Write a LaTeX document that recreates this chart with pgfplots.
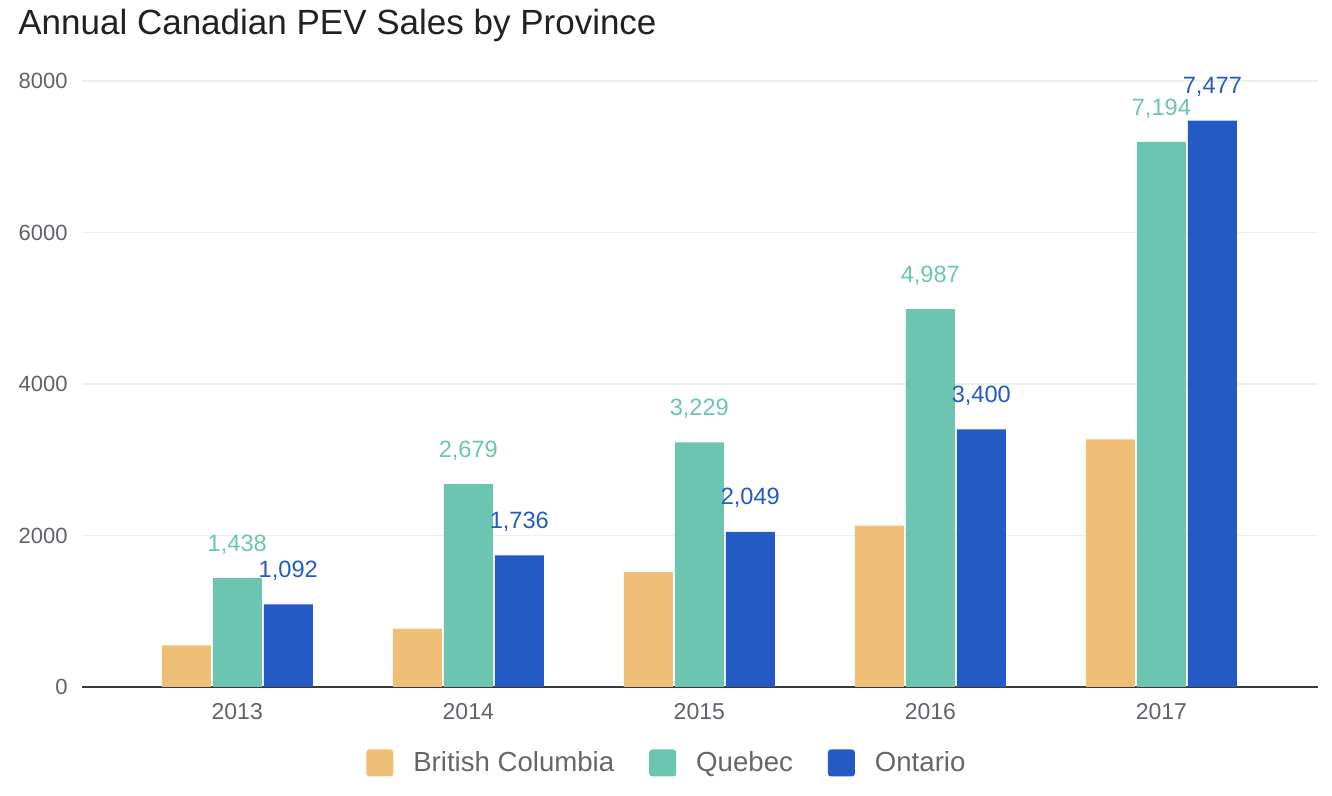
\documentclass[border=0pt]{standalone}
\usepackage{fontspec}
\setmainfont{Liberation Sans}
\usepackage{pgfplots}
\pgfplotsset{compat=1.18}
\definecolor{bcc}{HTML}{EFBF77}
\definecolor{quc}{HTML}{6BC5B1}
\definecolor{onc}{HTML}{235AC3}
\definecolor{titlec}{HTML}{212121}
\definecolor{tickc}{HTML}{5F6368}
\definecolor{legc}{HTML}{666666}
\definecolor{gridc}{HTML}{EEEEEE}
\definecolor{axisc}{HTML}{3A3A3A}
\begin{document}
\begin{tikzpicture}
\useasboundingbox (0,0) rectangle (666pt,398pt);
\node[anchor=base west, inner sep=0pt, text=titlec, font=\fontsize{17.5}{20}\selectfont] at (9pt,380.5pt) {Annual Canadian PEV Sales by Province};
\begin{axis}[
  at={(41pt,54.5pt)}, anchor=south west,
  scale only axis, width=618pt, height=303pt,
  ybar=1pt, bar width=24.5pt,
  xmin=-0.672, xmax=4.678, ymin=0, ymax=8000,
  xtick={0,1,2,3,4}, xticklabels={2013,2014,2015,2016,2017},
  ytick={0,2000,4000,6000,8000},
  axis x line*=bottom, axis y line*=left,
  x axis line style={-, draw=axisc, line width=1pt},
  y axis line style={draw=none},
  major tick length=0pt, tick style={draw=none},
  ymajorgrids, grid style={gridc, line width=0.6pt},
  /pgf/number format/assume math mode=true,
  yticklabel style={font=\fontsize{11}{13}\selectfont, text=tickc, anchor=east, inner sep=0pt, xshift=-7pt, /pgf/number format/1000 sep={}},
  xticklabel style={font=\fontsize{11.5}{13}\selectfont, text=tickc, anchor=north, inner sep=0pt, yshift=-8pt},
  every node near coord/.append style={font=\fontsize{11.8}{13}\selectfont, inner sep=0pt, text depth=0pt, yshift=13.3pt, /pgf/number format/1000 sep={,}},
  clip=false,
  legend columns=3,
  legend cell align=left,
  legend style={at={(0.474,-0.1254)}, anchor=center, draw=none, fill=none,
    font=\fontsize{13.8}{16}\selectfont, text=legc,
    /tikz/every even column/.append style={column sep=15.5pt}},
  legend image code/.code={\fill[#1, rounded corners=1.5pt] (0pt,-6.75pt) rectangle (13.5pt,6.75pt); \path (21.5pt,0pt);},
]
\addplot[fill=bcc, draw=none] coordinates {(0,550) (1,770) (2,1520) (3,2130) (4,3270)};
\addplot[fill=quc, draw=none, nodes near coords, every node near coord/.append style={text=quc}] coordinates {(0,1438) (1,2679) (2,3229) (3,4987) (4,7194)};
\addplot[fill=onc, draw=none, nodes near coords, every node near coord/.append style={text=onc}] coordinates {(0,1092) (1,1736) (2,2049) (3,3400) (4,7477)};
\legend{British Columbia, Quebec, Ontario}
\end{axis}
\end{tikzpicture}
\end{document}
